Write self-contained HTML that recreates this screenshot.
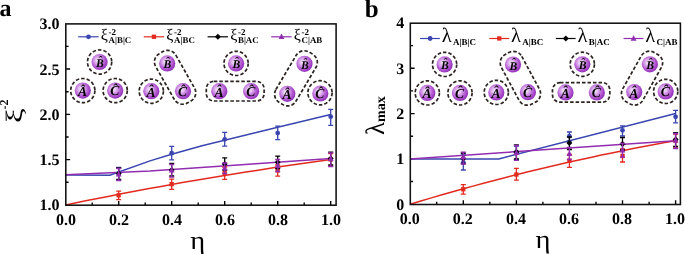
<!DOCTYPE html>
<html><head><meta charset="utf-8"><title>figure</title>
<style>
html,body{margin:0;padding:0;background:#fff;}
svg{display:block;will-change:transform;}
text{font-family:"Liberation Serif", "DejaVu Serif", serif;fill:#000;text-rendering:geometricPrecision;}
.b{font-weight:bold;}
.bi{font-weight:bold;font-style:italic;}
</style></head><body>
<svg width="685" height="254" viewBox="0 0 685 254">
<defs>
<radialGradient id="ball" cx="0.40" cy="0.40" r="0.64">
<stop offset="0" stop-color="#f7ecfa"/>
<stop offset="0.25" stop-color="#e3bdf0"/>
<stop offset="0.6" stop-color="#bb66d7"/>
<stop offset="0.9" stop-color="#9a38be"/>
<stop offset="1" stop-color="#8f30b4"/>
</radialGradient>
</defs>
<rect x="0" y="0" width="685" height="254" fill="#fff"/>

<!-- panel a -->
<text class="b" x="-0.5" y="16.3" font-size="24">a</text>
<path d="M65.8 159.6h4.3M65.8 114.3h4.3M65.8 69.0h4.3M65.8 182.2h2.8M65.8 137.0h2.8M65.8 91.7h2.8M65.8 46.4h2.8M118.7 205.2v-4.3M171.7 205.2v-4.3M224.7 205.2v-4.3M277.7 205.2v-4.3M330.7 205.2v-4.3M92.2 205.2v-2.8M145.2 205.2v-2.8M198.2 205.2v-2.8M251.2 205.2v-2.8M304.2 205.2v-2.8" stroke="#000" stroke-width="1.35" fill="none"/>
<text class="b" x="59.6" y="210.4" font-size="16" text-anchor="end">1.0</text>
<text class="b" x="59.6" y="165.1" font-size="16" text-anchor="end">1.5</text>
<text class="b" x="59.6" y="119.8" font-size="16" text-anchor="end">2.0</text>
<text class="b" x="59.6" y="74.5" font-size="16" text-anchor="end">2.5</text>
<text class="b" x="59.6" y="29.2" font-size="16" text-anchor="end">3.0</text>
<text class="b" x="66.0" y="224.6" font-size="16" text-anchor="middle">0.0</text>
<text class="b" x="119.0" y="224.6" font-size="16" text-anchor="middle">0.2</text>
<text class="b" x="172.0" y="224.6" font-size="16" text-anchor="middle">0.4</text>
<text class="b" x="225.0" y="224.6" font-size="16" text-anchor="middle">0.6</text>
<text class="b" x="278.0" y="224.6" font-size="16" text-anchor="middle">0.8</text>
<text class="b" x="331.0" y="224.6" font-size="16" text-anchor="middle">1.0</text>
<text x="0" y="0" font-size="26" text-anchor="middle" transform="translate(197.7 248.8) scale(1.1 1)">η</text>
<g transform="translate(21.7 123) rotate(-90)"><text x="0" y="0" font-size="23.5" transform="scale(1.4 1)">ξ</text><text class="b" x="13.4" y="-13.6" font-size="12">-2</text></g>
<clipPath id="ca"><rect x="65.8" y="23.85" width="270.3" height="181.35"/></clipPath>
<g clip-path="url(#ca)">
<polyline points="65.7,204.9 76.3,202.7 86.9,200.6 97.5,198.5 108.1,196.4 118.7,194.3 129.3,192.3 139.9,190.3 150.5,188.3 161.1,186.4 171.7,184.5 182.3,182.6 192.9,180.8 203.5,179.0 214.1,177.2 224.7,175.4 235.3,173.7 245.9,172.0 256.5,170.4 267.1,168.7 277.7,167.1 288.3,165.6 298.9,164.0 309.5,162.5 320.1,161.0 330.7,159.6" fill="none" stroke="#e22b1f" stroke-width="1.5" stroke-linejoin="round"/>
<polyline points="65.7,174.9 109.7,175.2 150.0,160.9 171.7,154.3 202.0,145.7 245.0,135.2 277.7,127.3 330.7,114.6" fill="none" stroke="#3a46b0" stroke-width="1.5" stroke-linejoin="round"/>
<polyline points="65.7,174.7 150.0,171.0 245.0,164.4 330.7,158.6" fill="none" stroke="#922db0" stroke-width="1.5" stroke-linejoin="round"/>
</g>
<path d="M118.7 191.2V199.6M116.2 191.2H121.2M116.2 199.6H121.2" stroke="#e22b1f" stroke-width="1.3" fill="none"/>
<path d="M171.7 179.2V189.3M169.2 179.2H174.2M169.2 189.3H174.2" stroke="#e22b1f" stroke-width="1.3" fill="none"/>
<path d="M224.7 167.0V179.3M222.2 167.0H227.2M222.2 179.3H227.2" stroke="#e22b1f" stroke-width="1.3" fill="none"/>
<path d="M277.7 165.0V176.1M275.2 165.0H280.2M275.2 176.1H280.2" stroke="#e22b1f" stroke-width="1.3" fill="none"/>
<path d="M330.7 153.5V165.8M328.2 153.5H333.2M328.2 165.8H333.2" stroke="#e22b1f" stroke-width="1.3" fill="none"/>
<rect x="116.5" y="193.1" width="4.3" height="4.3" fill="#e22b1f"/>
<rect x="169.5" y="182.0" width="4.3" height="4.3" fill="#e22b1f"/>
<rect x="222.5" y="170.8" width="4.3" height="4.3" fill="#e22b1f"/>
<rect x="275.5" y="168.3" width="4.3" height="4.3" fill="#e22b1f"/>
<rect x="328.5" y="157.3" width="4.3" height="4.3" fill="#e22b1f"/>
<path d="M118.7 167.5V180.1M116.2 167.5H121.2M116.2 180.1H121.2" stroke="#3a46b0" stroke-width="1.3" fill="none"/>
<path d="M171.7 146.3V159.8M169.2 146.3H174.2M169.2 159.8H174.2" stroke="#3a46b0" stroke-width="1.3" fill="none"/>
<path d="M224.7 132.4V146.2M222.2 132.4H227.2M222.2 146.2H227.2" stroke="#3a46b0" stroke-width="1.3" fill="none"/>
<path d="M277.7 126.2V139.6M275.2 126.2H280.2M275.2 139.6H280.2" stroke="#3a46b0" stroke-width="1.3" fill="none"/>
<path d="M330.7 109.3V125.3M328.2 109.3H333.2M328.2 125.3H333.2" stroke="#3a46b0" stroke-width="1.3" fill="none"/>
<circle cx="118.7" cy="173.7" r="2.4" fill="#3a46b0"/>
<circle cx="171.7" cy="153.2" r="2.4" fill="#3a46b0"/>
<circle cx="224.7" cy="139.3" r="2.4" fill="#3a46b0"/>
<circle cx="277.7" cy="133.1" r="2.4" fill="#3a46b0"/>
<circle cx="330.7" cy="116.7" r="2.4" fill="#3a46b0"/>
<path d="M118.7 168.0V179.3M116.2 168.0H121.2M116.2 179.3H121.2" stroke="#000000" stroke-width="1.3" fill="none"/>
<path d="M171.7 163.4V176.0M169.2 163.4H174.2M169.2 176.0H174.2" stroke="#000000" stroke-width="1.3" fill="none"/>
<path d="M224.7 157.9V170.0M222.2 157.9H227.2M222.2 170.0H227.2" stroke="#000000" stroke-width="1.3" fill="none"/>
<path d="M277.7 156.1V168.5M275.2 156.1H280.2M275.2 168.5H280.2" stroke="#000000" stroke-width="1.3" fill="none"/>
<path d="M330.7 152.2V165.0M328.2 152.2H333.2M328.2 165.0H333.2" stroke="#000000" stroke-width="1.3" fill="none"/>
<polygon points="118.7,170.5 121.7,173.5 118.7,176.5 115.7,173.5" fill="#000000"/>
<polygon points="171.7,167.0 174.7,170.0 171.7,173.0 168.7,170.0" fill="#000000"/>
<polygon points="224.7,161.0 227.7,164.0 224.7,167.0 221.7,164.0" fill="#000000"/>
<polygon points="277.7,159.2 280.7,162.2 277.7,165.2 274.7,162.2" fill="#000000"/>
<polygon points="330.7,155.5 333.7,158.5 330.7,161.5 327.7,158.5" fill="#000000"/>
<path d="M118.7 168.5V180.5M116.2 168.5H121.2M116.2 180.5H121.2" stroke="#922db0" stroke-width="1.3" fill="none"/>
<path d="M171.7 164.5V177.1M169.2 164.5H174.2M169.2 177.1H174.2" stroke="#922db0" stroke-width="1.3" fill="none"/>
<path d="M224.7 163.0V173.5M222.2 163.0H227.2M222.2 173.5H227.2" stroke="#922db0" stroke-width="1.3" fill="none"/>
<path d="M277.7 159.5V171.5M275.2 159.5H280.2M275.2 171.5H280.2" stroke="#922db0" stroke-width="1.3" fill="none"/>
<path d="M330.7 152.8V166.5M328.2 152.8H333.2M328.2 166.5H333.2" stroke="#922db0" stroke-width="1.3" fill="none"/>
<polygon points="118.7,170.9 121.6,176.4 115.8,176.4" fill="#922db0"/>
<polygon points="171.7,167.1 174.6,172.6 168.8,172.6" fill="#922db0"/>
<polygon points="224.7,164.8 227.6,170.3 221.8,170.3" fill="#922db0"/>
<polygon points="277.7,162.3 280.6,167.8 274.8,167.8" fill="#922db0"/>
<polygon points="330.7,155.6 333.6,161.1 327.8,161.1" fill="#922db0"/>
<rect x="65.8" y="23.9" width="270.3" height="181.3" fill="none" stroke="#111" stroke-width="1.55"/>
<path d="M78.2 36.8h20.4" stroke="#3a46b0" stroke-width="1.2"/>
<circle cx="88.5" cy="36.8" r="2.4" fill="#3a46b0"/>
<text x="100.8" y="39.8" font-size="16">ξ</text>
<text class="b" x="108.6" y="35.0" font-size="9">-2</text>
<text class="b" x="108.6" y="43.3" font-size="8.9">A|B|C</text>
<path d="M143.7 36.8h20.4" stroke="#e22b1f" stroke-width="1.2"/>
<rect x="151.8" y="34.6" width="4.3" height="4.3" fill="#e22b1f"/>
<text x="166.3" y="39.8" font-size="16">ξ</text>
<text class="b" x="174.1" y="35.0" font-size="9">-2</text>
<text class="b" x="174.1" y="43.3" font-size="8.9">A|BC</text>
<path d="M207.6 36.8h20.4" stroke="#000000" stroke-width="1.2"/>
<polygon points="217.9,33.8 220.9,36.8 217.9,39.8 214.9,36.8" fill="#000000"/>
<text x="230.2" y="39.8" font-size="16">ξ</text>
<text class="b" x="238.0" y="35.0" font-size="9">-2</text>
<text class="b" x="238.0" y="43.3" font-size="8.9">B|AC</text>
<path d="M271.2 36.8h20.4" stroke="#922db0" stroke-width="1.2"/>
<polygon points="281.5,33.6 284.4,39.1 278.6,39.1" fill="#922db0"/>
<text x="293.8" y="39.8" font-size="16">ξ</text>
<text class="b" x="301.6" y="35.0" font-size="9">-2</text>
<text class="b" x="301.6" y="43.3" font-size="8.9">C|AB</text>
<circle cx="82.8" cy="90.6" r="12.1" stroke="#2b2320" stroke-width="1.7" fill="none" stroke-dasharray="3.5 2.0"/>
<circle cx="99.6" cy="62.0" r="12.1" stroke="#2b2320" stroke-width="1.7" fill="none" stroke-dasharray="3.5 2.0"/>
<circle cx="115.2" cy="90.6" r="12.1" stroke="#2b2320" stroke-width="1.7" fill="none" stroke-dasharray="3.5 2.0"/>
<circle cx="151.3" cy="91.2" r="12.1" stroke="#2b2320" stroke-width="1.7" fill="none" stroke-dasharray="3.5 2.0"/>
<rect x="146.7" y="65.7" width="56.8" height="23.2" rx="9.5" ry="9.5" transform="rotate(60.39 175.1 77.3)" stroke="#2b2320" stroke-width="1.7" fill="none" stroke-dasharray="3.5 2.0"/>
<circle cx="236.1" cy="63.4" r="12.1" stroke="#2b2320" stroke-width="1.7" fill="none" stroke-dasharray="3.5 2.0"/>
<rect x="206.3" y="81.4" width="57.8" height="19.6" rx="7.5" ry="7.5" transform="rotate(0.00 235.2 91.2)" stroke="#2b2320" stroke-width="1.7" fill="none" stroke-dasharray="3.5 2.0"/>
<circle cx="320.0" cy="92.8" r="12.1" stroke="#2b2320" stroke-width="1.7" fill="none" stroke-dasharray="3.5 2.0"/>
<rect x="266.6" y="66.8" width="58.6" height="23.2" rx="9.5" ry="9.5" transform="rotate(-59.41 295.9 78.3)" stroke="#2b2320" stroke-width="1.7" fill="none" stroke-dasharray="3.5 2.0"/>
<circle cx="82.8" cy="90.6" r="8.1" fill="url(#ball)"/>
<text class="bi" x="82.5" y="96.0" font-size="13.6" text-anchor="middle">A</text>
<text class="bi" x="80.0" y="93.5" font-size="13.5">&#x2c6;</text>
<circle cx="99.6" cy="62.0" r="8.1" fill="url(#ball)"/>
<text class="bi" x="99.9" y="67.0" font-size="11.7" text-anchor="middle">B</text>
<text class="bi" x="98.0" y="63.8" font-size="11.5">&#x2c6;</text>
<circle cx="115.2" cy="90.6" r="8.1" fill="url(#ball)"/>
<text class="bi" x="114.8" y="95.2" font-size="13.6" text-anchor="middle">C</text>
<text class="bi" x="112.8" y="92.8" font-size="13.5">&#x2c6;</text>
<circle cx="151.3" cy="91.2" r="8.1" fill="url(#ball)"/>
<text class="bi" x="151.0" y="96.6" font-size="13.6" text-anchor="middle">A</text>
<text class="bi" x="148.5" y="94.1" font-size="13.5">&#x2c6;</text>
<circle cx="167.2" cy="63.4" r="8.1" fill="url(#ball)"/>
<text class="bi" x="167.5" y="68.4" font-size="11.7" text-anchor="middle">B</text>
<text class="bi" x="165.6" y="65.2" font-size="11.5">&#x2c6;</text>
<circle cx="183.0" cy="91.2" r="8.1" fill="url(#ball)"/>
<text class="bi" x="182.6" y="95.8" font-size="13.6" text-anchor="middle">C</text>
<text class="bi" x="180.6" y="93.5" font-size="13.5">&#x2c6;</text>
<circle cx="219.3" cy="91.2" r="8.1" fill="url(#ball)"/>
<text class="bi" x="219.0" y="96.6" font-size="13.6" text-anchor="middle">A</text>
<text class="bi" x="216.5" y="94.1" font-size="13.5">&#x2c6;</text>
<circle cx="236.1" cy="63.4" r="8.1" fill="url(#ball)"/>
<text class="bi" x="236.4" y="68.4" font-size="11.7" text-anchor="middle">B</text>
<text class="bi" x="234.5" y="65.2" font-size="11.5">&#x2c6;</text>
<circle cx="251.1" cy="91.2" r="8.1" fill="url(#ball)"/>
<text class="bi" x="250.7" y="95.8" font-size="13.6" text-anchor="middle">C</text>
<text class="bi" x="248.7" y="93.5" font-size="13.5">&#x2c6;</text>
<circle cx="287.3" cy="93.8" r="8.1" fill="url(#ball)"/>
<text class="bi" x="287.0" y="99.2" font-size="13.6" text-anchor="middle">A</text>
<text class="bi" x="284.5" y="96.7" font-size="13.5">&#x2c6;</text>
<circle cx="304.5" cy="63.8" r="8.1" fill="url(#ball)"/>
<text class="bi" x="304.8" y="68.8" font-size="11.7" text-anchor="middle">B</text>
<text class="bi" x="302.9" y="65.5" font-size="11.5">&#x2c6;</text>
<circle cx="320.3" cy="93.5" r="8.1" fill="url(#ball)"/>
<text class="bi" x="319.9" y="98.1" font-size="13.6" text-anchor="middle">C</text>
<text class="bi" x="317.9" y="95.8" font-size="13.5">&#x2c6;</text>
<!-- panel b -->
<text class="b" x="364.8" y="16.5" font-size="25">b</text>
<path d="M410.3 158.9h4.3M410.3 113.6h4.3M410.3 68.2h4.3M410.3 181.5h2.8M410.3 136.2h2.8M410.3 90.9h2.8M410.3 45.6h2.8M463.3 204.5v-4.3M516.4 204.5v-4.3M569.4 204.5v-4.3M622.5 204.5v-4.3M675.6 204.5v-4.3M436.7 204.5v-2.8M489.8 204.5v-2.8M542.9 204.5v-2.8M596.0 204.5v-2.8M649.1 204.5v-2.8" stroke="#000" stroke-width="1.35" fill="none"/>
<text class="b" x="404.3" y="209.6" font-size="16" text-anchor="end">0</text>
<text class="b" x="404.3" y="164.3" font-size="16" text-anchor="end">1</text>
<text class="b" x="404.3" y="119.0" font-size="16" text-anchor="end">2</text>
<text class="b" x="404.3" y="73.6" font-size="16" text-anchor="end">3</text>
<text class="b" x="404.3" y="28.3" font-size="16" text-anchor="end">4</text>
<text class="b" x="409.7" y="223.6" font-size="16" text-anchor="middle">0.0</text>
<text class="b" x="462.8" y="223.6" font-size="16" text-anchor="middle">0.2</text>
<text class="b" x="515.9" y="223.6" font-size="16" text-anchor="middle">0.4</text>
<text class="b" x="568.9" y="223.6" font-size="16" text-anchor="middle">0.6</text>
<text class="b" x="622.0" y="223.6" font-size="16" text-anchor="middle">0.8</text>
<text class="b" x="675.1" y="223.6" font-size="16" text-anchor="middle">1.0</text>
<text x="0" y="0" font-size="26" text-anchor="middle" transform="translate(542.9 247.6) scale(1.1 1)">η</text>
<g transform="translate(384 135) rotate(-90)"><text x="0" y="0" font-size="26.5">λ</text><text class="b" x="13" y="1.2" font-size="14">max</text></g>
<clipPath id="cb"><rect x="410.3" y="23.2" width="270.09999999999997" height="181.3"/></clipPath>
<g clip-path="url(#cb)">
<polyline points="410.2,204.2 420.8,201.0 431.4,197.9 442.0,194.8 452.7,191.8 463.3,188.8 473.9,185.9 484.5,183.0 495.1,180.2 505.7,177.4 516.4,174.7 527.0,172.1 537.6,169.5 548.2,167.0 558.8,164.5 569.4,162.1 580.1,159.7 590.7,157.4 601.3,155.1 611.9,152.9 622.5,150.7 633.1,148.6 643.8,146.6 654.4,144.6 665.0,142.6 675.6,140.8" fill="none" stroke="#e22b1f" stroke-width="1.5" stroke-linejoin="round"/>
<polyline points="410.2,158.9 498.7,158.9 675.6,113.6" fill="none" stroke="#3a46b0" stroke-width="1.5" stroke-linejoin="round"/>
<polyline points="410.2,158.9 675.6,140.8" fill="none" stroke="#922db0" stroke-width="1.5" stroke-linejoin="round"/>
</g>
<path d="M463.3 184.6V194.2M460.8 184.6H465.8M460.8 194.2H465.8" stroke="#e22b1f" stroke-width="1.3" fill="none"/>
<path d="M516.4 168.3V180.1M513.9 168.3H518.9M513.9 180.1H518.9" stroke="#e22b1f" stroke-width="1.3" fill="none"/>
<path d="M569.4 154.5V167.3M566.9 154.5H571.9M566.9 167.3H571.9" stroke="#e22b1f" stroke-width="1.3" fill="none"/>
<path d="M622.5 149.0V162.0M620.0 149.0H625.0M620.0 162.0H625.0" stroke="#e22b1f" stroke-width="1.3" fill="none"/>
<path d="M675.6 134.0V148.0M673.1 134.0H678.1M673.1 148.0H678.1" stroke="#e22b1f" stroke-width="1.3" fill="none"/>
<rect x="461.1" y="187.1" width="4.3" height="4.3" fill="#e22b1f"/>
<rect x="514.2" y="172.4" width="4.3" height="4.3" fill="#e22b1f"/>
<rect x="567.3" y="158.5" width="4.3" height="4.3" fill="#e22b1f"/>
<rect x="620.4" y="153.8" width="4.3" height="4.3" fill="#e22b1f"/>
<rect x="673.4" y="138.6" width="4.3" height="4.3" fill="#e22b1f"/>
<path d="M463.3 154.0V170.0M460.8 154.0H465.8M460.8 170.0H465.8" stroke="#3a46b0" stroke-width="1.3" fill="none"/>
<path d="M516.4 146.0V159.5M513.9 146.0H518.9M513.9 159.5H518.9" stroke="#3a46b0" stroke-width="1.3" fill="none"/>
<path d="M569.4 132.0V141.0M566.9 132.0H571.9M566.9 141.0H571.9" stroke="#3a46b0" stroke-width="1.3" fill="none"/>
<path d="M622.5 125.8V136.0M620.0 125.8H625.0M620.0 136.0H625.0" stroke="#3a46b0" stroke-width="1.3" fill="none"/>
<path d="M675.6 110.3V122.9M673.1 110.3H678.1M673.1 122.9H678.1" stroke="#3a46b0" stroke-width="1.3" fill="none"/>
<circle cx="463.3" cy="162.5" r="2.4" fill="#3a46b0"/>
<circle cx="516.4" cy="152.5" r="2.4" fill="#3a46b0"/>
<circle cx="569.4" cy="136.2" r="2.4" fill="#3a46b0"/>
<circle cx="622.5" cy="130.3" r="2.4" fill="#3a46b0"/>
<circle cx="675.6" cy="116.8" r="2.4" fill="#3a46b0"/>
<path d="M463.3 153.0V163.5M460.8 153.0H465.8M460.8 163.5H465.8" stroke="#000000" stroke-width="1.3" fill="none"/>
<path d="M516.4 144.8V159.0M513.9 144.8H518.9M513.9 159.0H518.9" stroke="#000000" stroke-width="1.3" fill="none"/>
<path d="M569.4 137.0V149.5M566.9 137.0H571.9M566.9 149.5H571.9" stroke="#000000" stroke-width="1.3" fill="none"/>
<path d="M622.5 137.5V150.0M620.0 137.5H625.0M620.0 150.0H625.0" stroke="#000000" stroke-width="1.3" fill="none"/>
<path d="M675.6 132.6V146.5M673.1 132.6H678.1M673.1 146.5H678.1" stroke="#000000" stroke-width="1.3" fill="none"/>
<polygon points="463.3,155.6 466.3,158.6 463.3,161.6 460.3,158.6" fill="#000000"/>
<polygon points="516.4,149.0 519.4,152.0 516.4,155.0 513.4,152.0" fill="#000000"/>
<polygon points="569.4,140.0 572.4,143.0 569.4,146.0 566.4,143.0" fill="#000000"/>
<polygon points="622.5,140.9 625.5,143.9 622.5,146.9 619.5,143.9" fill="#000000"/>
<polygon points="675.6,136.5 678.6,139.5 675.6,142.5 672.6,139.5" fill="#000000"/>
<path d="M463.3 152.1V164.0M460.8 152.1H465.8M460.8 164.0H465.8" stroke="#922db0" stroke-width="1.3" fill="none"/>
<path d="M516.4 145.5V160.3M513.9 145.5H518.9M513.9 160.3H518.9" stroke="#922db0" stroke-width="1.3" fill="none"/>
<path d="M569.4 147.5V159.5M566.9 147.5H571.9M566.9 159.5H571.9" stroke="#922db0" stroke-width="1.3" fill="none"/>
<path d="M622.5 143.5V157.0M620.0 143.5H625.0M620.0 157.0H625.0" stroke="#922db0" stroke-width="1.3" fill="none"/>
<path d="M675.6 133.5V148.5M673.1 133.5H678.1M673.1 148.5H678.1" stroke="#922db0" stroke-width="1.3" fill="none"/>
<polygon points="463.3,153.8 466.2,159.3 460.4,159.3" fill="#922db0"/>
<polygon points="516.4,149.6 519.2,155.1 513.5,155.1" fill="#922db0"/>
<polygon points="569.4,150.5 572.3,156.0 566.6,156.0" fill="#922db0"/>
<polygon points="622.5,147.1 625.4,152.6 619.6,152.6" fill="#922db0"/>
<polygon points="675.6,137.1 678.5,142.6 672.7,142.6" fill="#922db0"/>
<rect x="410.3" y="23.2" width="270.1" height="181.3" fill="none" stroke="#111" stroke-width="1.55"/>
<path d="M420.1 38.5h19.8" stroke="#3a46b0" stroke-width="1.2"/>
<circle cx="430.1" cy="38.5" r="2.4" fill="#3a46b0"/>
<text x="441.7" y="41.8" font-size="20.5">λ</text>
<text class="b" x="453.1" y="45.2" font-size="9">A|B|C</text>
<path d="M489.3 38.5h19.8" stroke="#e22b1f" stroke-width="1.2"/>
<rect x="497.1" y="36.3" width="4.3" height="4.3" fill="#e22b1f"/>
<text x="510.9" y="41.8" font-size="20.5">λ</text>
<text class="b" x="522.3" y="45.2" font-size="9">A|BC</text>
<path d="M555.8 38.5h19.8" stroke="#000000" stroke-width="1.2"/>
<polygon points="565.8,35.5 568.8,38.5 565.8,41.5 562.8,38.5" fill="#000000"/>
<text x="577.4" y="41.8" font-size="20.5">λ</text>
<text class="b" x="588.8" y="45.2" font-size="9">B|AC</text>
<path d="M623.6 38.5h19.8" stroke="#922db0" stroke-width="1.2"/>
<polygon points="633.6,35.3 636.5,40.8 630.7,40.8" fill="#922db0"/>
<text x="645.2" y="41.8" font-size="20.5">λ</text>
<text class="b" x="656.6" y="45.2" font-size="9">C|AB</text>
<circle cx="427.3" cy="92.9" r="12.1" stroke="#2b2320" stroke-width="1.7" fill="none" stroke-dasharray="3.5 2.0"/>
<circle cx="444.6" cy="64.4" r="12.1" stroke="#2b2320" stroke-width="1.7" fill="none" stroke-dasharray="3.5 2.0"/>
<circle cx="460.0" cy="92.9" r="12.1" stroke="#2b2320" stroke-width="1.7" fill="none" stroke-dasharray="3.5 2.0"/>
<circle cx="496.3" cy="92.4" r="12.1" stroke="#2b2320" stroke-width="1.7" fill="none" stroke-dasharray="3.5 2.0"/>
<rect x="492.3" y="66.8" width="56.3" height="23.2" rx="9.5" ry="9.5" transform="rotate(61.72 520.5 78.3)" stroke="#2b2320" stroke-width="1.7" fill="none" stroke-dasharray="3.5 2.0"/>
<circle cx="582.3" cy="64.3" r="12.1" stroke="#2b2320" stroke-width="1.7" fill="none" stroke-dasharray="3.5 2.0"/>
<rect x="552.5" y="82.6" width="57.3" height="19.6" rx="7.5" ry="7.5" transform="rotate(0.00 581.1 92.4)" stroke="#2b2320" stroke-width="1.7" fill="none" stroke-dasharray="3.5 2.0"/>
<circle cx="665.7" cy="91.4" r="12.1" stroke="#2b2320" stroke-width="1.7" fill="none" stroke-dasharray="3.5 2.0"/>
<rect x="613.7" y="66.6" width="56.7" height="23.2" rx="9.5" ry="9.5" transform="rotate(-60.54 642.0 78.2)" stroke="#2b2320" stroke-width="1.7" fill="none" stroke-dasharray="3.5 2.0"/>
<circle cx="427.3" cy="92.9" r="8.1" fill="url(#ball)"/>
<text class="bi" x="427.0" y="98.3" font-size="13.6" text-anchor="middle">A</text>
<text class="bi" x="424.5" y="95.8" font-size="13.5">&#x2c6;</text>
<circle cx="444.6" cy="64.4" r="8.1" fill="url(#ball)"/>
<text class="bi" x="444.9" y="69.4" font-size="11.7" text-anchor="middle">B</text>
<text class="bi" x="443.0" y="66.2" font-size="11.5">&#x2c6;</text>
<circle cx="460.0" cy="92.9" r="8.1" fill="url(#ball)"/>
<text class="bi" x="459.6" y="97.5" font-size="13.6" text-anchor="middle">C</text>
<text class="bi" x="457.6" y="95.2" font-size="13.5">&#x2c6;</text>
<circle cx="496.3" cy="92.4" r="8.1" fill="url(#ball)"/>
<text class="bi" x="496.0" y="97.8" font-size="13.6" text-anchor="middle">A</text>
<text class="bi" x="493.5" y="95.3" font-size="13.5">&#x2c6;</text>
<circle cx="513.0" cy="64.5" r="8.1" fill="url(#ball)"/>
<text class="bi" x="513.3" y="69.5" font-size="11.7" text-anchor="middle">B</text>
<text class="bi" x="511.4" y="66.2" font-size="11.5">&#x2c6;</text>
<circle cx="527.9" cy="92.2" r="8.1" fill="url(#ball)"/>
<text class="bi" x="527.5" y="96.8" font-size="13.6" text-anchor="middle">C</text>
<text class="bi" x="525.5" y="94.5" font-size="13.5">&#x2c6;</text>
<circle cx="565.5" cy="92.4" r="8.1" fill="url(#ball)"/>
<text class="bi" x="565.2" y="97.8" font-size="13.6" text-anchor="middle">A</text>
<text class="bi" x="562.7" y="95.3" font-size="13.5">&#x2c6;</text>
<circle cx="582.3" cy="64.3" r="8.1" fill="url(#ball)"/>
<text class="bi" x="582.6" y="69.3" font-size="11.7" text-anchor="middle">B</text>
<text class="bi" x="580.7" y="66.0" font-size="11.5">&#x2c6;</text>
<circle cx="596.8" cy="92.4" r="8.1" fill="url(#ball)"/>
<text class="bi" x="596.4" y="97.0" font-size="13.6" text-anchor="middle">C</text>
<text class="bi" x="594.4" y="94.7" font-size="13.5">&#x2c6;</text>
<circle cx="634.2" cy="92.1" r="8.1" fill="url(#ball)"/>
<text class="bi" x="633.9" y="97.5" font-size="13.6" text-anchor="middle">A</text>
<text class="bi" x="631.4" y="95.0" font-size="13.5">&#x2c6;</text>
<circle cx="649.9" cy="64.3" r="8.1" fill="url(#ball)"/>
<text class="bi" x="650.2" y="69.3" font-size="11.7" text-anchor="middle">B</text>
<text class="bi" x="648.3" y="66.0" font-size="11.5">&#x2c6;</text>
<circle cx="665.7" cy="91.4" r="8.1" fill="url(#ball)"/>
<text class="bi" x="665.3" y="96.0" font-size="13.6" text-anchor="middle">C</text>
<text class="bi" x="663.3" y="93.7" font-size="13.5">&#x2c6;</text>
</svg></body></html>
